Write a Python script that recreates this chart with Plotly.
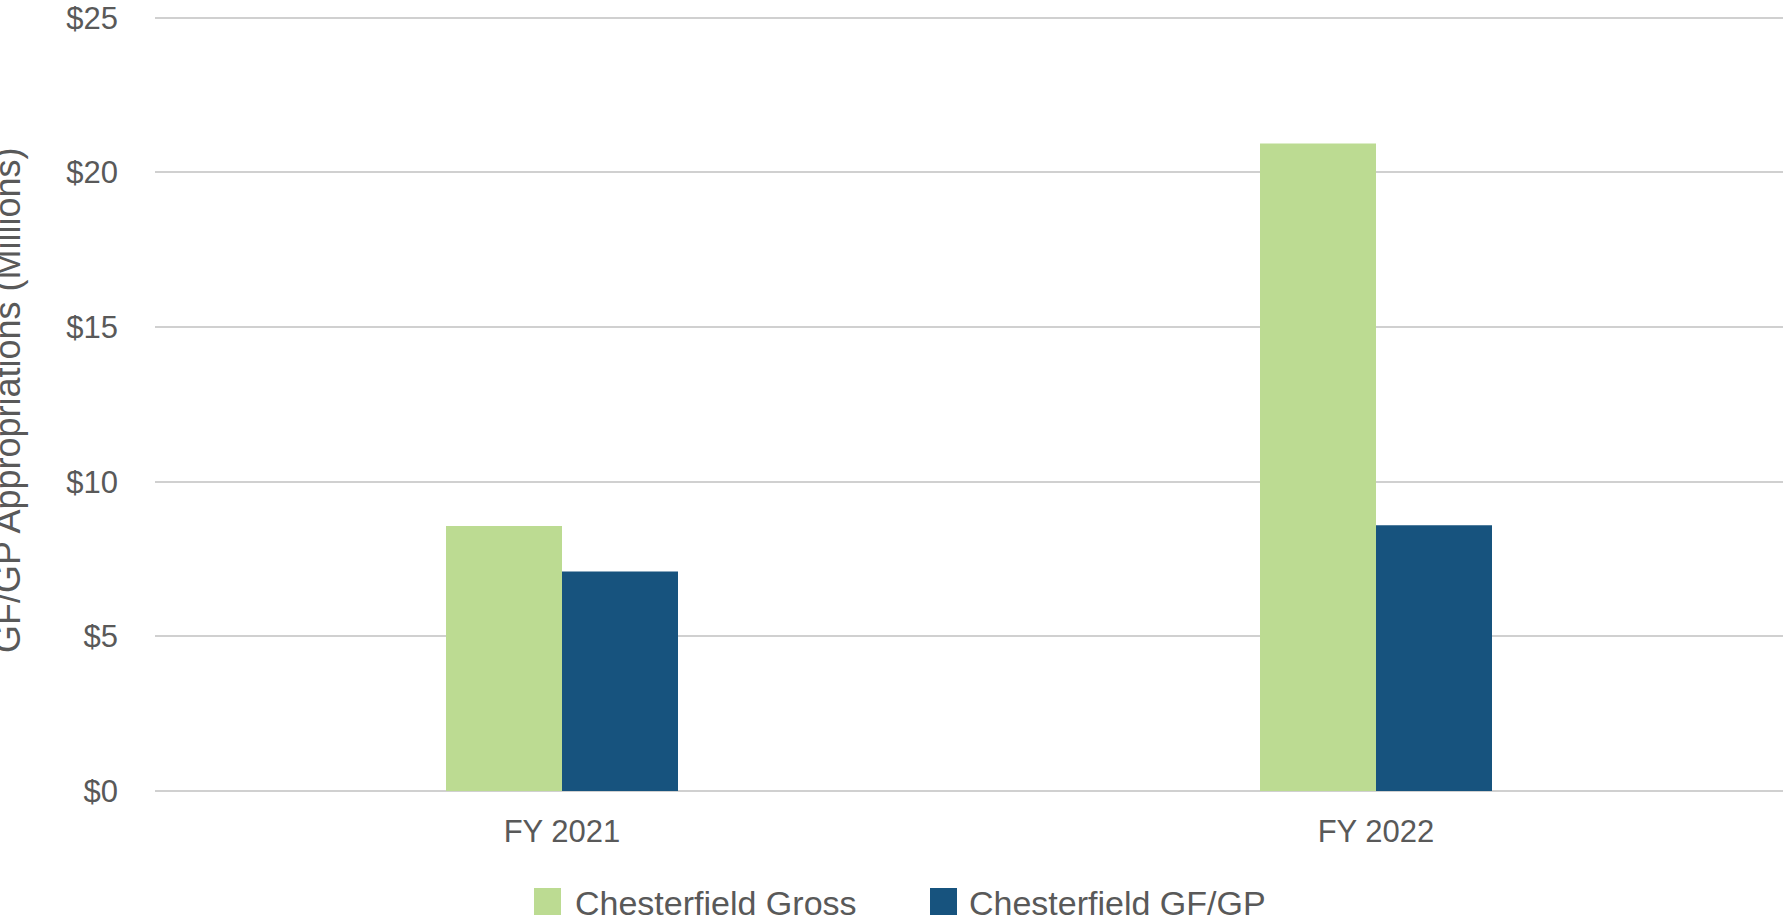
import plotly.graph_objects as go

# ---- data ----
categories = ["FY 2021", "FY 2022"]
series_names = ["Chesterfield Gross", "Chesterfield GF/GP"]
gross_values = [8.57, 20.94]
gfgp_values = [7.10, 8.59]
y_ticks = [0, 5, 10, 15, 20, 25]
y_tick_labels = ["$0", "$5", "$10", "$15", "$20", "$25"]
y_title = "GF/GP Appropriations (Millions)"

# ---- style ----
W, H = 1783, 924
Y_MAX = 25.06            # tiny headroom so the top gridline is drawn
TOP_GRID = 18            # y of the $25 gridline
ZERO_Y = 791             # y of the $0 line
PH = (ZERO_Y - TOP_GRID) * Y_MAX / 25.0
ML, MR = 155, 0
MT = ZERO_Y - PH
MB = H - ZERO_Y
GREEN = "#BCDB92"
BLUE = "#17537E"
TEXT = "#595959"
GRID = "#D0D0D0"
FONT = "Liberation Sans, Arial, sans-serif"

PW = W - ML - MR


def px_x(x):
    return (x - ML) / PW


def px_y(y):
    return (ZERO_Y - y) / PH


fig = go.Figure()
fig.add_trace(go.Bar(x=categories, y=gross_values, name=series_names[0],
                     marker=dict(color=GREEN, line=dict(width=0))))
fig.add_trace(go.Bar(x=categories, y=gfgp_values, name=series_names[1],
                     marker=dict(color=BLUE, line=dict(width=0))))

# manual legend (large swatches)
legend_items = [
    (series_names[0], GREEN, 534, 574),
    (series_names[1], BLUE, 930, 968),
]
shapes = []
annotations = []
for name, color, sx, tx in legend_items:
    shapes.append(dict(type="rect", xref="paper", yref="paper",
                       x0=px_x(sx), x1=px_x(sx + 27),
                       y0=px_y(915), y1=px_y(888),
                       fillcolor=color, line=dict(width=0)))
    annotations.append(dict(text=name, xref="paper", yref="paper",
                            x=px_x(tx), y=px_y(923), xanchor="left",
                            yanchor="bottom", borderpad=0, showarrow=False,
                            font=dict(family=FONT, size=34, color=TEXT)))

annotations.append(dict(text=y_title, xref="paper", yref="paper",
                        x=px_x(8), y=px_y(400), xanchor="center", yanchor="middle",
                        textangle=-90, showarrow=False,
                        font=dict(family=FONT, size=36, color=TEXT)))

fig.update_layout(
    width=W, height=H,
    margin=dict(l=ML, r=MR, t=MT, b=MB, pad=0, autoexpand=False),
    paper_bgcolor="white", plot_bgcolor="white",
    barmode="group", bargap=0.715, bargroupgap=0,
    showlegend=False,
    shapes=shapes, annotations=annotations,
    font=dict(family=FONT, color=TEXT),
)
fig.update_xaxes(type="category", showgrid=False, showline=False, zeroline=False,
                 automargin=False, ticks="", ticklabelstandoff=19,
                 tickfont=dict(family=FONT, size=31, color=TEXT))
fig.update_yaxes(range=[0, Y_MAX], tickvals=y_ticks, ticktext=y_tick_labels,
                 automargin=False,
                 showgrid=True, gridcolor=GRID, gridwidth=1.5,
                 zeroline=True, zerolinecolor=GRID, zerolinewidth=1.5,
                 showline=False, ticks="", ticklabelstandoff=36,
                 ticklabeloverflow="allow",
                 tickfont=dict(family=FONT, size=31, color=TEXT))

fig.write_html("out.html",
               config={"displayModeBar": False},
               post_script="document.body.style.margin='0';"
                           "document.body.style.overflow='hidden';")
